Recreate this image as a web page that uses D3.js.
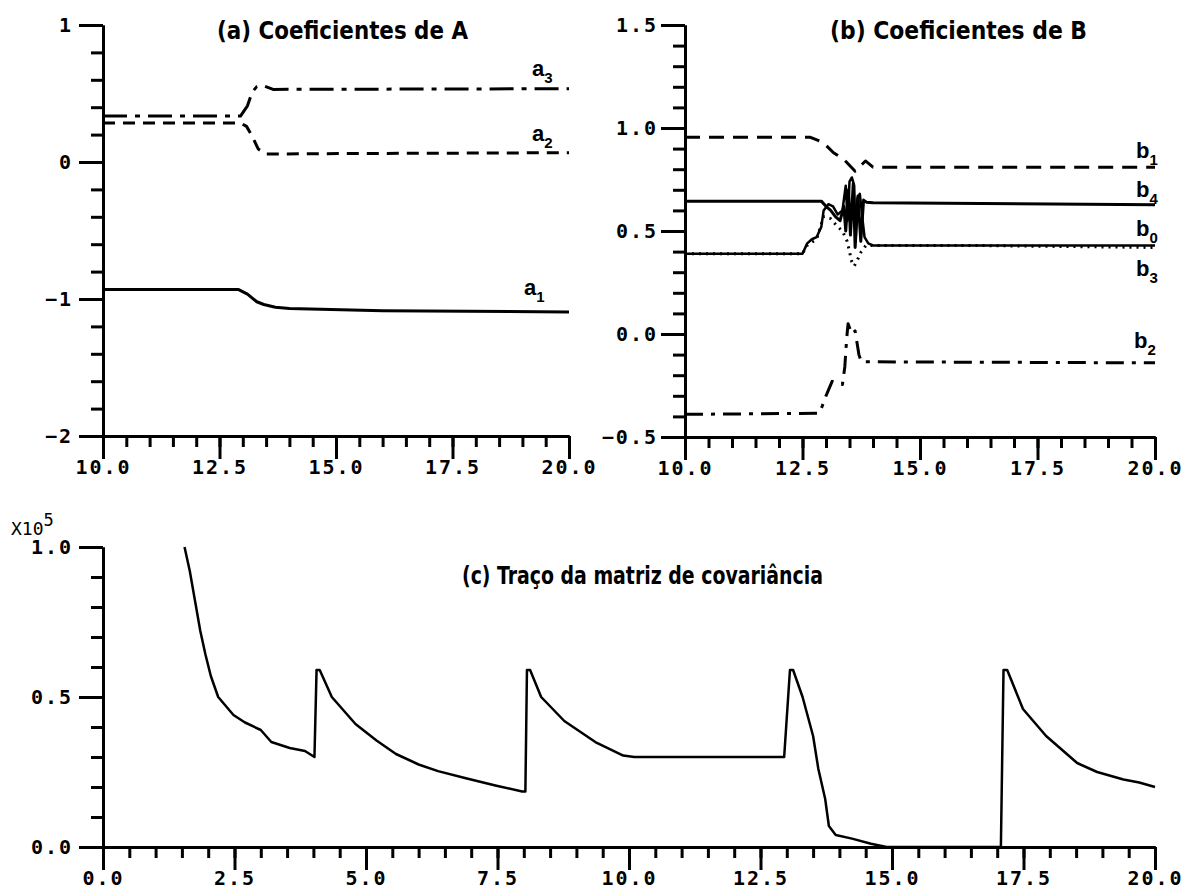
<!DOCTYPE html>
<html>
<head>
<meta charset="utf-8">
<script src="https://cdn.jsdelivr.net/npm/d3@7"></script>
<style>
  body { margin: 0; background: #fff; }
  svg { display: block; }
  .tick text { font-family: "DejaVu Sans Mono", monospace; font-weight: bold; font-size: 20px; }
  .title { font-family: "Liberation Sans Narrow", "Arial Narrow", "DejaVu Sans Condensed", sans-serif; font-weight: bold; font-size: 25px; }
  .lab { font-family: "Liberation Sans", Arial, sans-serif; font-weight: bold; font-size: 22px; }
</style>
</head>
<body>
<div id="chart"></div>
<script>
// (a) coefficients of A  [t, value]
var a1 = [[10,-0.93],[12.9,-0.93],[13.1,-0.965],[13.3,-1.02],[13.45,-1.04],[13.7,-1.06],[14,-1.07],[16,-1.085],[20,-1.095]];
var a2 = [[10,0.285],[12.95,0.285],[13.08,0.26],[13.2,0.19],[13.33,0.095],[13.5,0.058],[14.2,0.06],[20,0.068]];
var a3 = [[10,0.335],[12.95,0.335],[13.1,0.41],[13.2,0.51],[13.3,0.55],[13.45,0.555],[13.65,0.53],[20,0.535]];

// (b) coefficients of B
var b0 = [[10,0.39],[12.5,0.39],[12.6,0.44],[12.7,0.46],[12.8,0.47],[12.9,0.52],[12.95,0.6],[13.05,0.63],[13.15,0.62],[13.25,0.58],[13.35,0.6],[13.42,0.72],[13.46,0.55],[13.5,0.74],[13.55,0.76],[13.6,0.72],[13.63,0.45],[13.67,0.66],[13.72,0.68],[13.78,0.55],[13.82,0.47],[13.9,0.44],[14.0,0.43],[20,0.43]];
var b1 = [[10,0.955],[12.67,0.955],[12.94,0.93],[13.16,0.88],[13.37,0.85],[13.62,0.79],[13.84,0.84],[14.0,0.81],[20,0.81]];
var b2 = [[10,-0.39],[12.85,-0.385],[12.92,-0.35],[13.0,-0.3],[13.13,-0.23],[13.35,-0.245],[13.4,-0.16],[13.44,-0.02],[13.47,0.05],[13.55,0.0],[13.62,0.015],[13.7,-0.1],[13.75,-0.135],[20,-0.14]];
var b3 = [[10,0.39],[12.5,0.39],[12.6,0.43],[12.8,0.46],[12.95,0.57],[13.1,0.56],[13.25,0.52],[13.35,0.5],[13.45,0.45],[13.5,0.4],[13.55,0.35],[13.6,0.33],[13.65,0.35],[13.75,0.4],[13.85,0.43],[14,0.43],[16,0.43],[20,0.42]];
var b4 = [[10,0.645],[12.9,0.645],[13.0,0.62],[13.1,0.6],[13.2,0.57],[13.3,0.55],[13.38,0.62],[13.42,0.5],[13.48,0.7],[13.52,0.48],[13.58,0.73],[13.62,0.42],[13.68,0.67],[13.74,0.45],[13.8,0.65],[13.86,0.64],[14,0.637],[20,0.628]];

// (c) trace of the covariance matrix (x10^5)
var cov = [[1.55,1.0],[1.65,0.92],[1.75,0.82],[1.85,0.72],[1.95,0.64],[2.05,0.57],[2.19,0.5],[2.48,0.44],[2.7,0.415],[3.0,0.39],[3.2,0.35],[3.55,0.33],[3.84,0.32],[4.02,0.30],[4.06,0.59],[4.12,0.59],[4.35,0.5],[4.8,0.41],[5.2,0.355],[5.57,0.31],[6.0,0.275],[6.37,0.253],[6.88,0.23],[7.46,0.205],[7.97,0.185],[8.03,0.185],[8.06,0.59],[8.12,0.59],[8.33,0.5],[8.77,0.42],[9.36,0.35],[9.89,0.305],[10.1,0.30],[12.95,0.30],[13.06,0.59],[13.12,0.59],[13.3,0.5],[13.5,0.37],[13.6,0.26],[13.73,0.16],[13.8,0.07],[13.93,0.04],[14.24,0.028],[14.6,0.011],[14.9,0.0],[17.07,0.0],[17.12,0.59],[17.19,0.59],[17.49,0.46],[17.93,0.37],[18.52,0.28],[18.9,0.25],[19.4,0.225],[19.7,0.215],[20,0.2]];

var xTicksAB = [10, 12.5, 15, 17.5, 20];
var xTicksC = [0, 2.5, 5, 7.5, 10, 12.5, 15, 17.5, 20];
var yTicksA = [-2, -1, 0, 1];
var yTicksB = [-0.5, 0, 0.5, 1, 1.5];
var yTicksC = [0, 0.5, 1];
var titles = ["(a) Coeficientes de A", "(b) Coeficientes de B", "(c) Traço da matriz de covariância"];

var w = 1189, h = 895;
var svg = d3.select("#chart").append("svg").attr("width", w).attr("height", h);

function drawAxes(xs, ys, xMajor, xMinor, yMajor, yMinor, xFmt, yFmt, yPad) {
  var g = svg.append("g");
  var y0 = ys.range()[0], x0 = xs.range()[0];
  g.append("g").attr("transform", "translate(0," + y0 + ")")
    .call(d3.axisBottom(xs).tickValues(xMinor).tickSize(11).tickSizeOuter(0).tickFormat(""));
  g.append("g").attr("transform", "translate(0," + y0 + ")")
    .call(d3.axisBottom(xs).tickValues(xMajor).tickSize(23).tickSizeOuter(0).tickPadding(1).tickFormat(xFmt));
  g.append("g").attr("transform", "translate(" + x0 + ",0)")
    .call(d3.axisLeft(ys).tickValues(yMinor).tickSize(12).tickSizeOuter(0).tickFormat(""));
  g.append("g").attr("transform", "translate(" + x0 + ",0)")
    .call(d3.axisLeft(ys).tickValues(yMajor).tickSize(24).tickSizeOuter(0).tickPadding(yPad).tickFormat(yFmt));
  g.selectAll("path, line").attr("stroke", "#000").attr("stroke-width", 3);
  g.selectAll("text").attr("fill", "#000").style("letter-spacing", "2px");
}

function drawLine(data, xs, ys, dash, sw) {
  var line = d3.line().x(function(d) { return xs(d[0]); }).y(function(d) { return ys(d[1]); });
  svg.append("path").datum(data)
    .attr("d", line)
    .attr("fill", "none")
    .attr("stroke", "#000")
    .attr("stroke-width", sw || 3)
    .attr("stroke-linejoin", "round")
    .attr("stroke-dasharray", dash || null);
}

function label(x, y, base, sub) {
  var t = svg.append("text").attr("class", "lab").attr("x", x).attr("y", y);
  t.append("tspan").text(base);
  t.append("tspan").attr("dy", 7).style("font-size", "15px").text(sub);
}

function title(txt, x, y, len) {
  svg.append("text").attr("class", "title").attr("x", x).attr("y", y)
    .attr("textLength", len).attr("lengthAdjust", "spacingAndGlyphs").text(txt);
}

var fmt1 = d3.format(".1f");

// ---- panel (a)
var xA = d3.scaleLinear().domain([10, 20]).range([103, 569]);
var yA = d3.scaleLinear().domain([-2, 1]).range([436, 25]);
drawAxes(xA, yA, xTicksAB, d3.range(10, 20.01, 0.5), yTicksA, d3.range(-2, 1.01, 0.2), fmt1, d3.format("d"), 6);
drawLine(a1, xA, yA, null);
drawLine(a2, xA, yA, "12,8");
drawLine(a3, xA, yA, "24,8,5,8");
label(532, 76, "a", "3");
label(532, 141, "a", "2");
label(524, 295, "a", "1");
title(titles[0], 217, 39, 251);

// ---- panel (b)
var xB = d3.scaleLinear().domain([10, 20]).range([685, 1155]);
var yB = d3.scaleLinear().domain([-0.5, 1.5]).range([437, 25]);
drawAxes(xB, yB, xTicksAB, d3.range(10, 20.01, 0.5), yTicksB, d3.range(-0.5, 1.51, 0.1), fmt1, fmt1, 3);
drawLine(b1, xB, yB, "15,9");
drawLine(b4, xB, yB, null);
drawLine(b0, xB, yB, null, 2.5);
drawLine(b3, xB, yB, "2,5");
drawLine(b2, xB, yB, "18,8,4,8");
label(1136, 158, "b", "1");
label(1136, 197, "b", "4");
label(1136, 236, "b", "0");
label(1136, 276, "b", "3");
label(1134, 348, "b", "2");
title(titles[1], 830, 39, 257);

// ---- panel (c)
var xC = d3.scaleLinear().domain([0, 20]).range([103, 1155]);
var yC = d3.scaleLinear().domain([0, 1]).range([847, 547]);
drawAxes(xC, yC, xTicksC, d3.range(0, 20.01, 0.5), yTicksC, d3.range(0, 1.01, 0.1), fmt1, fmt1, 6);
drawLine(cov, xC, yC, null, 2.5);
title(titles[2], 462, 584, 361);

var ex = svg.append("text").attr("x", 11).attr("y", 535)
  .style("font-family", "DejaVu Sans Mono, monospace").style("font-size", "18px").attr("fill", "#000");
ex.append("tspan").text("X10");
ex.append("tspan").attr("dy", -9).style("font-size", "17px").text("5");
</script>
</body>
</html>
